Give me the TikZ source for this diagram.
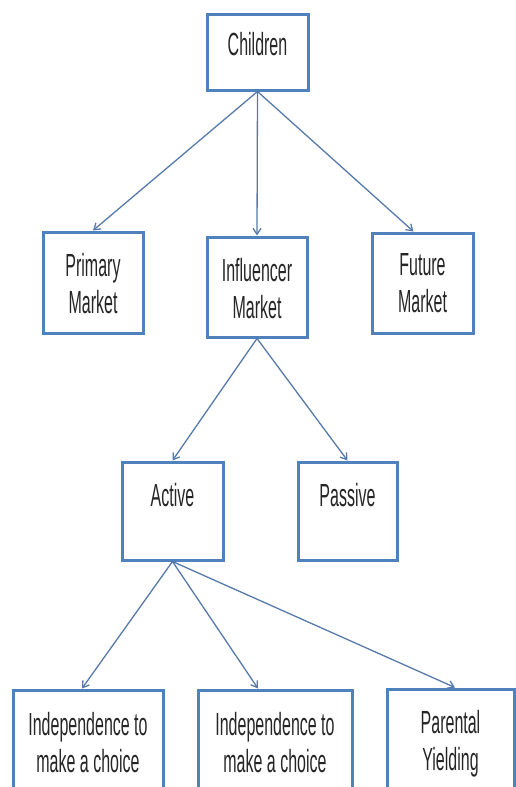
\documentclass[tikz,border=0pt]{standalone}
\usepackage{fontspec}
\setmainfont[FakeStretch=0.5]{Liberation Sans}
\usetikzlibrary{arrows.meta}
\definecolor{boxblue}{RGB}{79,129,189}
\definecolor{arrowblue}{RGB}{86,122,170}
\begin{document}
\begin{tikzpicture}[x=1pt,y=-1pt,
  box/.style={draw=boxblue,line width=3pt,fill=white,rectangle,inner sep=0pt},
  lbl/.style={anchor=north,inner sep=0pt,align=center,text=black!85,font=\fontsize{32}{37}\selectfont},
  conn/.style={draw=arrowblue,line width=1.3pt,-{Straight Barb[length=6pt,width=8pt]}}]
\useasboundingbox (0,0) rectangle (516,787);
\clip (0,0) rectangle (516,787);
% boxes
\node[box,minimum width=101pt,minimum height=76pt] (children) at (257.5,52) {};
\node[box,minimum width=100pt,minimum height=101pt] (primary) at (93,282.5) {};
\node[box,minimum width=100pt,minimum height=100pt] (influencer) at (257,287) {};
\node[box,minimum width=101pt,minimum height=100pt] (future) at (422.5,283) {};
\node[box,minimum width=101pt,minimum height=98pt] (active) at (172.5,511) {};
\node[box,minimum width=99pt,minimum height=98pt] (passive) at (347.5,511) {};
\node[box,minimum width=150pt,minimum height=130pt] (indA) at (88,755) {};
\node[box,minimum width=154pt,minimum height=130pt] (indB) at (275,755) {};
\node[box,minimum width=127pt,minimum height=130pt] (parental) at (450.5,754) {};
% labels
\node[lbl] (children-t) at (257.5,32) {Children};
\node[lbl] (primary-t) at (93,253) {Primary\\Market};
\node[lbl] (influencer-t) at (257,258) {Influencer\\Market};
\node[lbl] (future-t) at (422.5,253) {Future\\Market};
\node[lbl] (active-t) at (172.5,483) {Active};
\node[lbl] (passive-t) at (347.5,483) {Passive};
\node[lbl] (indA-t) at (88,712) {Independence to\\make a choice};
\node[lbl] (indB-t) at (275,712) {Independence to\\make a choice};
\node[lbl] (parental-t) at (450.5,710) {Parental\\Yielding};
% connectors
\draw[conn] (children.south) -- (primary.north);
\draw[conn] (children.south) -- (influencer.north);
\draw[conn] (children.south) -- ([xshift=-9pt]future.north);
\draw[conn] (influencer.south) -- (active.north);
\draw[conn] (influencer.south) -- (passive.north);
\draw[conn] (active.south) -- ([xshift=-6pt]indA.north);
\draw[conn] (active.south) -- ([xshift=-17pt]indB.north);
\draw[conn] (active.south) -- ([xshift=4.5pt]parental.north);
\end{tikzpicture}
\end{document}
